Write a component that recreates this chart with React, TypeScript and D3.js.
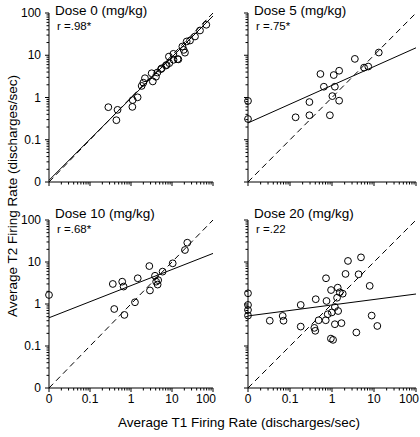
import React from "react";
import * as d3 from "d3";

const doseTitles = ["Dose 0 (mg/kg)", "Dose 5 (mg/kg)", "Dose 10 (mg/kg)", "Dose 20 (mg/kg)"];
const rLabels = ["r =.98*", "r =.75*", "r =.68*", "r =.22"];

const dose0X = [0.28, 0.47, 0.44, 1.08, 1.1, 1.45, 1.82, 2.0, 2.19, 3.19, 4.06, 4.4, 5.4, 7.1, 8.6, 10.8, 13.7, 10.9, 8.4, 17.9, 19.3, 22.8, 27.5, 36.4, 48.2, 68.7, 3.4, 5.6, 7.4, 14.3, 20.7];
const dose0Y = [0.59, 0.51, 0.29, 0.6, 0.87, 1.01, 1.88, 2.24, 2.86, 3.75, 3.1, 3.9, 4.7, 5.7, 6.5, 10.8, 8.1, 7.8, 9.3, 16.1, 13.4, 21.2, 22.3, 27.8, 38.6, 52.7, 2.4, 4.9, 5.9, 8.0, 11.5];

const dose5X = [0, 0, 0.136, 0.29, 0.29, 0.53, 0.64, 0.89, 1.02, 1.1, 1.17, 1.48, 1.48, 3.5, 5.8, 7.3, 13];
const dose5Y = [0.83, 0.31, 0.34, 0.78, 0.38, 3.6, 1.8, 0.38, 1.08, 3.4, 1.8, 4.3, 0.84, 8.2, 5.1, 5.4, 11.6];

const dose10X = [0, 0.36, 0.39, 0.61, 0.66, 0.69, 1.25, 1.46, 2.8, 2.9, 3.85, 4.1, 4.46, 4.6, 5.9, 10.4, 20.7, 23.6];
const dose10Y = [1.64, 3.0, 0.76, 3.4, 2.6, 0.55, 1.1, 4.1, 8.0, 2.1, 4.7, 3.4, 2.9, 3.7, 5.9, 9.3, 19.3, 28.8];

const dose20X = [0, 0, 0, 0, 0.033, 0.067, 0.07, 0.18, 0.18, 0.38, 0.4, 0.41, 0.48, 0.72, 0.74, 0.71, 0.79, 0.95, 0.99, 1.17, 1.17, 1.37, 1.53, 1.4, 1.32, 1.68, 1.8, 0.94, 1.06, 2.1, 2.4, 4.3, 4.9, 3.8, 7.9, 8.8, 12];
const dose20Y = [1.8, 0.95, 0.72, 0.53, 0.4, 0.52, 0.4, 0.95, 0.29, 0.27, 0.23, 1.3, 0.41, 4.1, 1.18, 0.41, 0.57, 2.15, 0.63, 0.85, 0.33, 2.45, 1.9, 0.68, 1.41, 0.35, 1.76, 0.15, 0.14, 5.2, 10.6, 5.1, 12.9, 0.21, 2.7, 0.53, 0.3];

// regression line: value at x = 0 and at x = 100
const fitAtZero = [0.011, 0.25, 0.47, 0.52];
const fitAtHundred = [85, 15, 16, 1.73];

const majorTicks = [0.01, 0.1, 1, 10, 100];
const tickLabels = ["0", "0.1", "1", "10", "100"];
const decades = [0.01, 0.1, 1, 10];
const minorMult = [2, 3, 4, 5, 6, 7, 8, 9];

const xTitle = "Average T1 Firing Rate (discharges/sec)";
const yTitle = "Average T2 Firing Rate (discharges/sec)";

const FONT = "'Liberation Sans', Arial, Helvetica, sans-serif";

const panels = [
  { x0: 49, x1: 213, y0: 182, y1: 13, xs: dose0X, ys: dose0Y, left: true, bottom: false, titleY: 15, rY: 30 },
  { x0: 248, x1: 416, y0: 182, y1: 13, xs: dose5X, ys: dose5Y, left: false, bottom: false, titleY: 15, rY: 30 },
  { x0: 49, x1: 213, y0: 388, y1: 220, xs: dose10X, ys: dose10Y, left: true, bottom: true, titleY: 218, rY: 233 },
  { x0: 248, x1: 416, y0: 388, y1: 220, xs: dose20X, ys: dose20Y, left: false, bottom: true, titleY: 218, rY: 233 },
];

const minorTicks = decades.flatMap((d) => minorMult.map((m) => d * m));
const clampV = (v: number) => (v <= 0 ? 0.01 : v);

function Panel({ p, i }: { p: (typeof panels)[number]; i: number }) {
  const x = d3.scaleLog().domain([0.01, 100]).range([p.x0, p.x1]);
  const y = d3.scaleLog().domain([0.01, 100]).range([p.y0, p.y1]);
  const line = d3
    .line<[number, number]>()
    .x((d) => x(clampV(d[0])))
    .y((d) => y(clampV(d[1])));
  const identity: [number, number][] = [
    [0, 0],
    [100, 100],
  ];
  const fit: [number, number][] = [
    [0, fitAtZero[i]],
    [100, fitAtHundred[i]],
  ];
  return (
    <g>
      <line x1={p.x0} x2={p.x0} y1={p.y0} y2={p.y1} stroke="#000" strokeWidth={1} />
      <line x1={p.x0} x2={p.x1} y1={p.y0} y2={p.y0} stroke="#000" strokeWidth={1} />
      {majorTicks.map((t) => (
        <g key={"mx" + t}>
          <line x1={x(t)} x2={x(t)} y1={p.y0} y2={p.y0 + 4} stroke="#000" />
          <line x1={p.x0} x2={p.x0 - 4} y1={y(t)} y2={y(t)} stroke="#000" />
        </g>
      ))}
      {minorTicks.map((t) => (
        <g key={"mn" + t}>
          <line x1={x(t)} x2={x(t)} y1={p.y0} y2={p.y0 + 2.5} stroke="#000" />
          <line x1={p.x0} x2={p.x0 - 2.5} y1={y(t)} y2={y(t)} stroke="#000" />
        </g>
      ))}
      {p.left &&
        majorTicks.map((t, k) => (
          <text
            key={"yl" + t}
            x={p.x0 - 8}
            y={y(t)}
            dy="0.35em"
            textAnchor="end"
            fontSize={12}
            fontFamily={FONT}
          >
            {tickLabels[k]}
          </text>
        ))}
      {p.bottom &&
        majorTicks.map((t, k) => {
          const last = k === majorTicks.length - 1;
          return (
            <text
              key={"xl" + t}
              x={last ? x(t) + 3 : x(t)}
              y={p.y0 + 15}
              textAnchor={last ? "end" : "middle"}
              fontSize={12}
              fontFamily={FONT}
            >
              {tickLabels[k]}
            </text>
          );
        })}
      <path d={line(identity) || ""} fill="none" stroke="#000" strokeWidth={1} strokeDasharray="6,4" />
      <path d={line(fit) || ""} fill="none" stroke="#000" strokeWidth={1} />
      {p.xs.map((v, k) => (
        <circle key={k} cx={x(clampV(v))} cy={y(clampV(p.ys[k]))} r={3.4} fill="none" stroke="#000" strokeWidth={1} />
      ))}
      <text x={p.x0 + 6} y={p.titleY} fontSize={13.5} fontFamily={FONT}>
        {doseTitles[i]}
      </text>
      <text x={p.x0 + 8} y={p.rY} fontSize={11.5} fontFamily={FONT}>
        {rLabels[i]}
      </text>
    </g>
  );
}

export default function App() {
  return (
    <svg
      width={420}
      height={437}
      viewBox="0 0 420 437"
      style={{ position: "absolute", left: 0, top: 0, background: "#fff" }}
    >
      <rect width={420} height={437} fill="#fff" />
      {panels.map((p, i) => (
        <Panel key={i} p={p} i={i} />
      ))}
      <text x={239} y={427} textAnchor="middle" fontSize={13.5} fontFamily={FONT}>
        {xTitle}
      </text>
      <text
        transform="translate(17,196) rotate(-90)"
        textAnchor="middle"
        fontSize={13.5}
        fontFamily={FONT}
      >
        {yTitle}
      </text>
    </svg>
  );
}
